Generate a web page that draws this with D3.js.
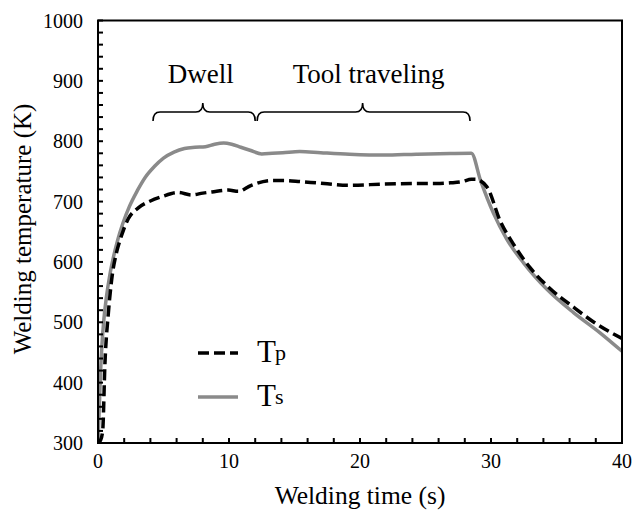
<!DOCTYPE html>
<html>
<head>
<meta charset="utf-8">
<script src="https://cdn.jsdelivr.net/npm/d3@7"></script>
</head>
<body style="margin:0">
<script>
// welding time (s) and temperature (K)
const tsTime = [0, 0.1, 0.2, 0.3, 0.45, 0.65, 0.9, 1.2, 1.5, 1.9, 2.4, 3.0, 3.6, 4.3, 5.0, 5.8, 6.6, 7.4, 8.2, 8.9, 9.6, 10.2, 10.9, 11.6, 12.5, 13.3, 14.1, 15.4, 17.0, 19.2, 21.8, 24.3, 26.9, 28.5, 29.2, 30.2, 31.2, 32.5, 34.25, 36.3, 38.3, 40];
const tsTemp = [300, 360, 420, 462, 505, 543, 578, 610, 636, 664, 692, 718, 740, 758, 772, 782, 788, 790, 791, 795, 797, 795, 790, 785, 779, 780, 781, 783, 781, 778.5, 777, 778.5, 779.6, 780, 735, 680, 638, 598, 555, 516, 483, 452];

const tpTime = [0, 0.2, 0.36, 0.53, 0.79, 1.04, 1.43, 1.68, 1.93, 2.3, 3.1, 4.0, 4.86, 6.13, 7.15, 8.0, 8.7, 9.95, 10.7, 11.7, 13.26, 14.1, 15.5, 16.7, 19.2, 21.8, 24.3, 26.1, 26.9, 27.8, 28.5, 28.8, 29.7, 30.7, 31.7, 33, 34.5, 36.3, 37.8, 40];
const tpTemp = [300, 305, 321, 432, 515, 570, 617, 636, 652, 671, 690, 701, 708, 715, 711, 714, 716, 719, 717, 727, 735, 735, 733, 731, 727, 729, 730, 730, 731, 733, 737, 737, 724, 668, 630, 590, 556, 525, 501, 473];

// process phases shown with braces
const phaseNames = ["Dwell", "Tool traveling"];
const phaseStart = [4.2, 12.15];
const phaseEnd = [12.0, 28.4];
const phaseMid = [8.0, 20.2];

const xTicks = [0, 10, 20, 30, 40];
const yTicks = [300, 400, 500, 600, 700, 800, 900, 1000];

const W = 632, H = 514;
const font = "Liberation Serif";
const x = d3.scaleLinear().domain([0, 40]).range([98, 622]);
const y = d3.scaleLinear().domain([300, 1000]).range([443, 20.5]);

const svg = d3.select("body").append("svg")
    .attr("width", W)
    .attr("height", H);

const grey = "#8a8a8a";

const line = d3.line()
    .x(d => x(d[0]))
    .y(d => y(d[1]))
    .curve(d3.curveMonotoneX);

const ts = tsTime.map((t, i) => [t, tsTemp[i]]);
const tp = tpTime.map((t, i) => [t, tpTemp[i]]);

svg.append("clipPath").attr("id", "plotclip")
  .append("rect")
    .attr("x", x(0)).attr("y", y(1000))
    .attr("width", x(40) - x(0)).attr("height", y(300) - y(1000));

const plot = svg.append("g").attr("clip-path", "url(#plotclip)");

plot.append("path")
    .datum(ts)
    .attr("fill", "none")
    .attr("stroke", grey)
    .attr("stroke-width", 3.5)
    .attr("d", line);

plot.append("path")
    .datum(tp)
    .attr("fill", "none")
    .attr("stroke", "#000")
    .attr("stroke-width", 3.5)
    .attr("stroke-dasharray", "11,5")
    .attr("d", line);

// ticks, inward
const minorX = d3.range(0, 41, 2);
const minorY = d3.range(300, 1001, 20);

svg.append("g").selectAll("line")
  .data(minorX)
  .join("line")
    .attr("x1", d => x(d)).attr("x2", d => x(d))
    .attr("y1", y(300)).attr("y2", y(300) - 5)
    .attr("stroke", "#000").attr("stroke-width", 2);

svg.append("g").selectAll("line")
  .data(minorY)
  .join("line")
    .attr("x1", x(0)).attr("x2", x(0) + 5)
    .attr("y1", d => y(d)).attr("y2", d => y(d))
    .attr("stroke", "#000").attr("stroke-width", 2);

// frame
svg.append("rect")
    .attr("x", x(0)).attr("y", y(1000))
    .attr("width", x(40) - x(0)).attr("height", y(300) - y(1000))
    .attr("fill", "none")
    .attr("stroke", "#000")
    .attr("stroke-width", 2);

svg.append("g").selectAll("text")
  .data(xTicks)
  .join("text")
    .attr("font-family", font)
    .attr("x", d => x(d))
    .attr("y", 468)
    .attr("text-anchor", "middle")
    .attr("font-size", 20)
    .text(d => d);

svg.append("g").selectAll("text")
  .data(yTicks)
  .join("text")
    .attr("font-family", font)
    .attr("x", 83)
    .attr("y", d => y(d))
    .attr("dy", "0.35em")
    .attr("text-anchor", "end")
    .attr("font-size", 20)
    .text(d => d);

svg.append("text")
    .attr("font-family", font)
    .attr("x", 360)
    .attr("y", 504)
    .attr("text-anchor", "middle")
    .attr("font-size", 25.5)
    .text("Welding time (s)");

svg.append("text")
    .attr("font-family", font)
    .attr("transform", "translate(31,229) rotate(-90)")
    .attr("text-anchor", "middle")
    .attr("font-size", 25)
    .text("Welding temperature (K)");

// braces
function brace(x0, xm, x1, yb) {
  const h = 9, r = 7;
  return `M${x0},${yb + h} Q${x0},${yb} ${x0 + r},${yb}` +
    ` L${xm - r},${yb} Q${xm},${yb} ${xm},${yb - h}` +
    ` Q${xm},${yb} ${xm + r},${yb} L${x1 - r},${yb} Q${x1},${yb} ${x1},${yb + h}`;
}

const phases = phaseNames.map((n, i) => ({name: n, s: phaseStart[i], e: phaseEnd[i], m: phaseMid[i]}));

svg.append("g").selectAll("path")
  .data(phases)
  .join("path")
    .attr("d", d => brace(x(d.s), x(d.m), x(d.e), 112))
    .attr("fill", "none")
    .attr("stroke", "#000")
    .attr("stroke-width", 1.6);

svg.append("g").selectAll("text")
  .data(phases)
  .join("text")
    .attr("font-family", font)
    .attr("x", (d, i) => i === 0 ? x(d.m) - 2 : x(d.m) + 6)
    .attr("y", 83)
    .attr("text-anchor", "middle")
    .attr("font-size", 27)
    .text(d => d.name);

// legend
const legend = [
  {sub: "p", color: "#000", dash: "11,5", y: 353},
  {sub: "s", color: grey, dash: null, y: 397}
];

const lg = svg.append("g").selectAll("g")
  .data(legend)
  .join("g");

lg.append("line")
    .attr("x1", 198).attr("x2", 238)
    .attr("y1", d => d.y).attr("y2", d => d.y)
    .attr("stroke", d => d.color)
    .attr("stroke-width", 3.5)
    .attr("stroke-dasharray", d => d.dash);

const lt = lg.append("text")
    .attr("font-family", font)
    .attr("x", 257)
    .attr("y", d => d.y + 9)
    .attr("font-size", 31);
lt.append("tspan").text("T");
lt.append("tspan")
    .attr("font-size", 22)
    .attr("dx", -1)
    .attr("dy", -2)
    .text(d => d.sub);
</script>
</body>
</html>
